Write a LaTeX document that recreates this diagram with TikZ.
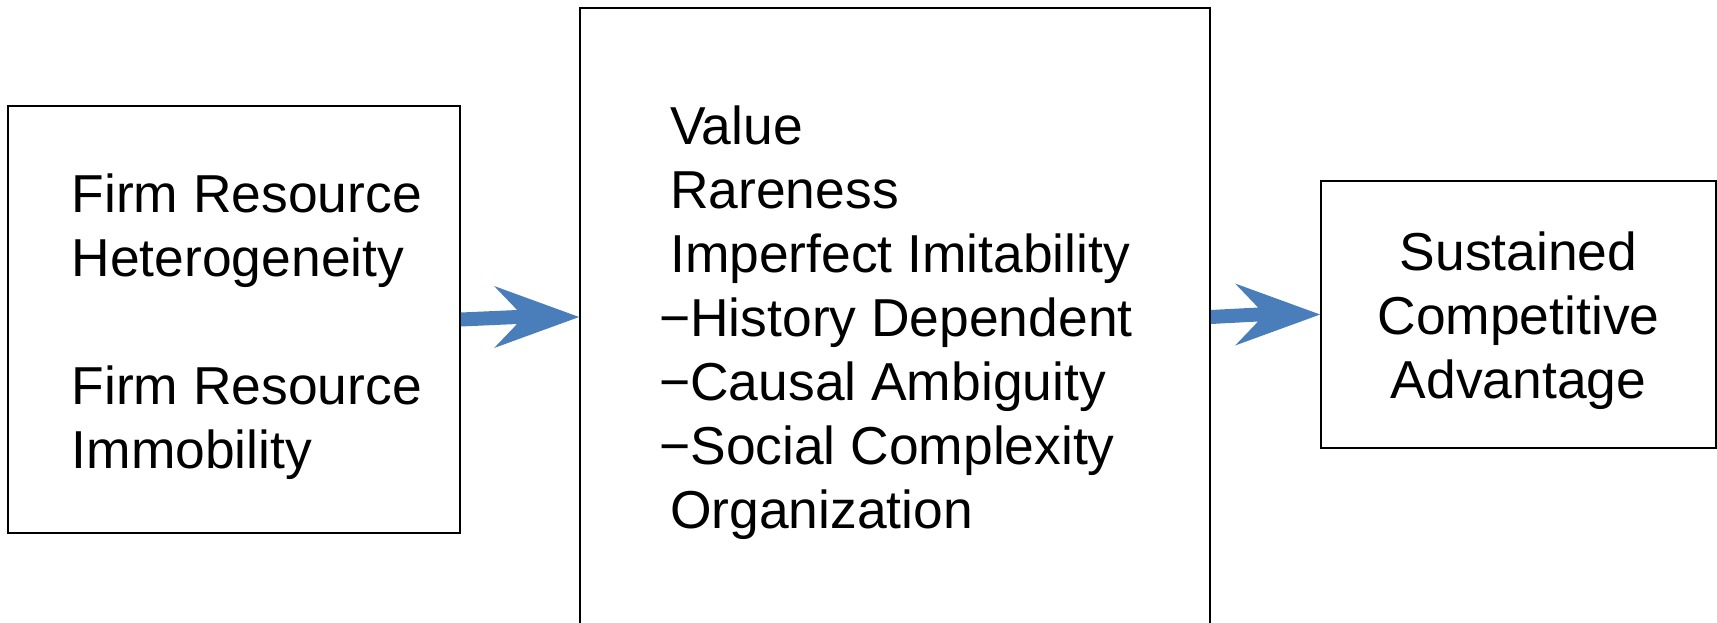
\documentclass[tikz,border=0pt]{standalone}
\usepackage{fontspec}
\setmainfont{Liberation Sans}
\usetikzlibrary{calc}
\definecolor{arrowblue}{RGB}{74,126,187}
% block arrow with a notched head, from one point to another
\newcommand{\blockarrow}[2]{%
  \fill[arrowblue] ($(#1)+(0,-7)$) -- ($(#2)+(-62,-7)$) -- ($(#2)+(-85,-31)$)
    -- (#2) -- ($(#2)+(-85,31)$) -- ($(#2)+(-62,7)$) -- ($(#1)+(0,7)$) -- cycle;}
\begin{document}
\begin{tikzpicture}[x=1pt,y=-1pt,
  box/.style={draw=black, line width=1.8pt, inner sep=0pt, fill=none},
  txt/.style={inner sep=0pt, font=\fontsize{53.4}{64}\selectfont}]
\useasboundingbox (0,0) rectangle (1717,622);
\clip (0,0) rectangle (1717,622);

% boxes
\node[box, minimum width=452pt, minimum height=427pt] (lbox) at (234,319.5) {};
\node[box, minimum width=630pt, minimum height=618pt] (mbox) at (895,317) {};
\node[box, minimum width=395pt, minimum height=267pt] (rbox) at (1518.5,314.5) {};

% left box text
\node[txt, anchor=base west] (l1) at (71.5,212) {Firm Resource};
\node[txt, anchor=base west] (l2) at (71.5,276) {Heterogeneity};
\node[txt, anchor=base west] (l3) at (71.5,404) {Firm Resource};
\node[txt, anchor=base west] (l4) at (71.5,468) {Immobility};

% middle box text
\node[txt, anchor=base west] (m1) at (670,144) {Value};
\node[txt, anchor=base west] (m2) at (670,208) {Rareness};
\node[txt, anchor=base west] (m3) at (670,272) {Imperfect Imitability};
\node[txt, anchor=base west] (m4) at (659,336) {−History Dependent};
\node[txt, anchor=base west] (m5) at (659,400) {−Causal Ambiguity};
\node[txt, anchor=base west] (m6) at (659,464) {−Social Complexity};
\node[txt, anchor=base west] (m7) at (670,528) {Organization};

% right box text
\node[txt, anchor=base] (r1) at (1518.5,270) {Sustained};
\node[txt, anchor=base] (r2) at (1518.5,334) {Competitive};
\node[txt, anchor=base] (r3) at (1518.5,398) {Advantage};

% connectors
\blockarrow{lbox.east}{mbox.west}
\blockarrow{mbox.east}{rbox.west}
\end{tikzpicture}
\end{document}
